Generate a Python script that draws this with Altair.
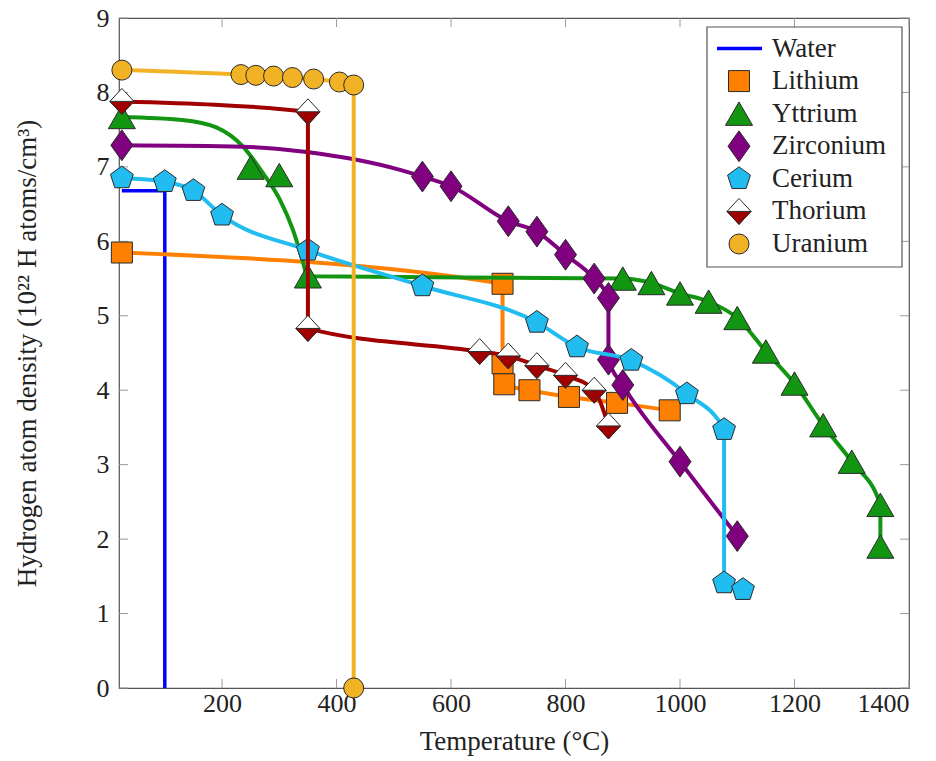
import altair as alt
import pandas as pd

# ---------------- data ----------------
series_names = ["Water", "Lithium", "Yttrium", "Zirconium", "Cerium", "Thorium", "Uranium"]
series_colors = ["#0000ff", "#ff8000", "#129612", "#800080", "#22bdf0", "#a00000", "#f2b225"]

water_t = [25, 100, 100]
water_h = [6.68, 6.68, 0.0]

lithium_t = [25, 690, 690, 693, 737, 806, 890, 982]
lithium_h = [5.85, 5.43, 4.36, 4.08, 4.00, 3.91, 3.83, 3.73]

yttrium_t = [25, 250, 300, 350, 900, 950, 1000, 1050, 1100, 1150, 1200, 1250, 1300, 1350, 1350]
yttrium_h = [7.67, 6.99, 6.89, 5.53, 5.50, 5.44, 5.30, 5.19, 4.97, 4.52, 4.09, 3.53, 3.04, 2.46, 1.90]
# path of the drawn Yttrium curve (it does not pass through every marker)
yttrium_curve_t = [25, 130, 190, 237, 272, 301, 324, 339, 350, 900, 950, 1000, 1050, 1100,
                   1150, 1200, 1250, 1300, 1350, 1350]
yttrium_curve_h = [7.67, 7.63, 7.53, 7.27, 6.91, 6.56, 6.15, 5.79, 5.53, 5.50, 5.44, 5.30, 5.19, 4.97,
                   4.52, 4.09, 3.53, 3.04, 2.46, 1.90]

zirconium_t = [25, 550, 600, 700, 750, 800, 850, 875, 875, 900, 1000, 1100]
zirconium_h = [7.29, 6.87, 6.74, 6.27, 6.13, 5.82, 5.50, 5.24, 4.41, 4.07, 3.04, 2.04]
# path of the drawn Zirconium curve
zirconium_curve_t = [25, 237, 348, 511, 550, 600, 700, 750, 800, 850, 875, 875, 900, 1000, 1100]
zirconium_curve_h = [7.29, 7.27, 7.20, 6.96, 6.87, 6.74, 6.27, 6.13, 5.82, 5.50, 5.24, 4.41, 4.07, 3.04, 2.04]

cerium_t = [25, 100, 150, 200, 350, 550, 750, 820, 915, 1012, 1077, 1077, 1110]
cerium_h = [6.85, 6.80, 6.68, 6.35, 5.88, 5.40, 4.91, 4.58, 4.40, 3.95, 3.47, 1.41, 1.32]

thorium_t = [25, 350, 350, 650, 700, 750, 800, 850, 875]
thorium_h = [7.88, 7.74, 4.83, 4.52, 4.46, 4.33, 4.20, 4.00, 3.52]

uranium_t = [25, 233, 259, 290, 323, 360, 405, 430, 430]
uranium_h = [8.30, 8.24, 8.23, 8.22, 8.20, 8.18, 8.14, 8.10, 0.0]

x_ticks = [200, 400, 600, 800, 1000, 1200, 1400]
y_ticks = [0, 1, 2, 3, 4, 5, 6, 7, 8, 9]

# ---------------- styling ----------------
W, H = 790, 670
FONT = "Liberation Serif"
MARK_STROKE = "#2a2a2a"
DIAMOND = "M0,-1.4L1,0L0,1.4L-1,0Z"
PENTAGON = "M0,-1L0.951,-0.309L0.588,0.809L-0.588,0.809L-0.951,-0.309Z"
HALF_TOP = "M0,-1.08L1,0L0,1.08L-1,0Z"
HALF_BOTTOM = "M-1,0L1,0L0,1.08Z"

xs = alt.Scale(domain=[20, 1400], nice=False, zero=False)
ys = alt.Scale(domain=[0, 9], nice=False, zero=False)
x_axis = alt.Axis(values=x_ticks, format="d", ticks=False, domain=False, grid=False,
                  labelPadding=2, title="Temperature (°C)", titlePadding=12)
y_axis = alt.Axis(values=y_ticks, format="d", ticks=False, domain=False, grid=False,
                  labelPadding=10, title="Hydrogen atom density (10²² H atoms/cm³)", titlePadding=55)

color_of = dict(zip(series_names, series_colors))


def frame(t, h):
    return pd.DataFrame({"t": t, "h": h, "o": list(range(len(t)))})


def enc_xy():
    return dict(x=alt.X("t:Q", scale=xs, axis=x_axis),
                y=alt.Y("h:Q", scale=ys, axis=y_axis))


markers = {
    "Lithium": [("square", 441, None)],
    "Yttrium": [("triangle-up", 729, None)],
    "Zirconium": [(DIAMOND, 484, None)],
    "Cerium": [(PENTAGON, 576, None)],
    "Thorium": [(HALF_TOP, 576, "white"), (HALF_BOTTOM, 576, None)],
    "Uranium": [("circle", 400, None)],
}

series_data = {
    "Water": (water_t, water_h),
    "Lithium": (lithium_t, lithium_h),
    "Yttrium": (yttrium_t, yttrium_h),
    "Zirconium": (zirconium_t, zirconium_h),
    "Cerium": (cerium_t, cerium_h),
    "Thorium": (thorium_t, thorium_h),
    "Uranium": (uranium_t, uranium_h),
}
curve_data = {
    "Yttrium": (yttrium_curve_t, yttrium_curve_h),
    "Zirconium": (zirconium_curve_t, zirconium_curve_h),
}

main_layers = []

# inside tick marks on all four sides
yt_df = pd.DataFrame({"v": y_ticks})
xt_df = pd.DataFrame({"v": x_ticks})
tick_color = "#9a9a9a"
main_layers.append(alt.Chart(yt_df).mark_rule(color=tick_color, strokeWidth=1).encode(
    x=alt.value(0), x2=alt.value(9), y=alt.Y("v:Q", scale=ys, axis=y_axis)))
main_layers.append(alt.Chart(yt_df).mark_rule(color=tick_color, strokeWidth=1).encode(
    x=alt.value(W - 9), x2=alt.value(W), y=alt.Y("v:Q", scale=ys, axis=y_axis)))
main_layers.append(alt.Chart(xt_df).mark_rule(color=tick_color, strokeWidth=1).encode(
    x=alt.X("v:Q", scale=xs, axis=x_axis), y=alt.value(H - 9), y2=alt.value(H)))
main_layers.append(alt.Chart(xt_df).mark_rule(color=tick_color, strokeWidth=1).encode(
    x=alt.X("v:Q", scale=xs, axis=x_axis), y=alt.value(0), y2=alt.value(9)))

for name in series_names:
    c = color_of[name]
    t, h = series_data[name]
    df = frame(t, h)
    if name in curve_data:
        line_df = frame(*curve_data[name])
    else:
        line_df = df
    if name == "Water":
        main_layers.append(alt.Chart(line_df).mark_line(color=c, strokeWidth=3.5, interpolate="linear")
                           .encode(order="o:Q", **enc_xy()))
        continue
    main_layers.append(alt.Chart(line_df).mark_line(color=c, strokeWidth=4, interpolate="monotone")
                       .encode(order="o:Q", **enc_xy()))
    for shape, size, fill in markers[name]:
        main_layers.append(alt.Chart(df).mark_point(
            shape=shape, size=size, filled=True, fill=fill or c, fillOpacity=1,
            stroke=MARK_STROKE, strokeWidth=1, opacity=1).encode(**enc_xy()))

main = alt.layer(*main_layers)

# ---------------- legend ----------------
leg_df = pd.DataFrame({"name": series_names})
leg_y = alt.Y("name:N", scale=alt.Scale(type="point", domain=series_names, range=[30.5, 226], padding=0),
              axis=None)
legend_layers = [
    alt.Chart(pd.DataFrame({"a": [0]})).mark_rect(fill="white", stroke="#555555", strokeWidth=1.2).encode(
        x=alt.value(588), x2=alt.value(783), y=alt.value(9), y2=alt.value(249)),
    alt.Chart(leg_df[leg_df["name"] == "Water"]).mark_rule(color=color_of["Water"], strokeWidth=3.5).encode(
        x=alt.value(598), x2=alt.value(643), y=leg_y),
]
for name in series_names[1:]:
    sub = leg_df[leg_df["name"] == name]
    for shape, size, fill in markers[name]:
        legend_layers.append(alt.Chart(sub).mark_point(
            shape=shape, size=size, filled=True, fill=fill or color_of[name], fillOpacity=1,
            stroke=MARK_STROKE, strokeWidth=1, opacity=1).encode(x=alt.value(620), y=leg_y))
legend_layers.append(alt.Chart(leg_df).mark_text(
    align="left", baseline="middle", font=FONT, fontSize=27, color="#222222").encode(
    x=alt.value(653), y=leg_y, text="name:N"))
legend = alt.layer(*legend_layers)

chart = (alt.layer(main, legend)
         .resolve_scale(y="independent")
         .properties(width=W, height=H,
                     padding={"left": 119, "top": 18, "right": 27, "bottom": 73},
                     autosize=alt.AutoSizeParams(type="none"))
         .configure_view(stroke="#555555", strokeWidth=1.2)
         .configure_axis(labelFont=FONT, titleFont=FONT, labelFontSize=26, titleFontSize=27,
                         labelColor="#222222", titleColor="#222222", titleFontWeight="normal"))

chart.save("out.html", embed_options={"renderer": "svg", "actions": False})
